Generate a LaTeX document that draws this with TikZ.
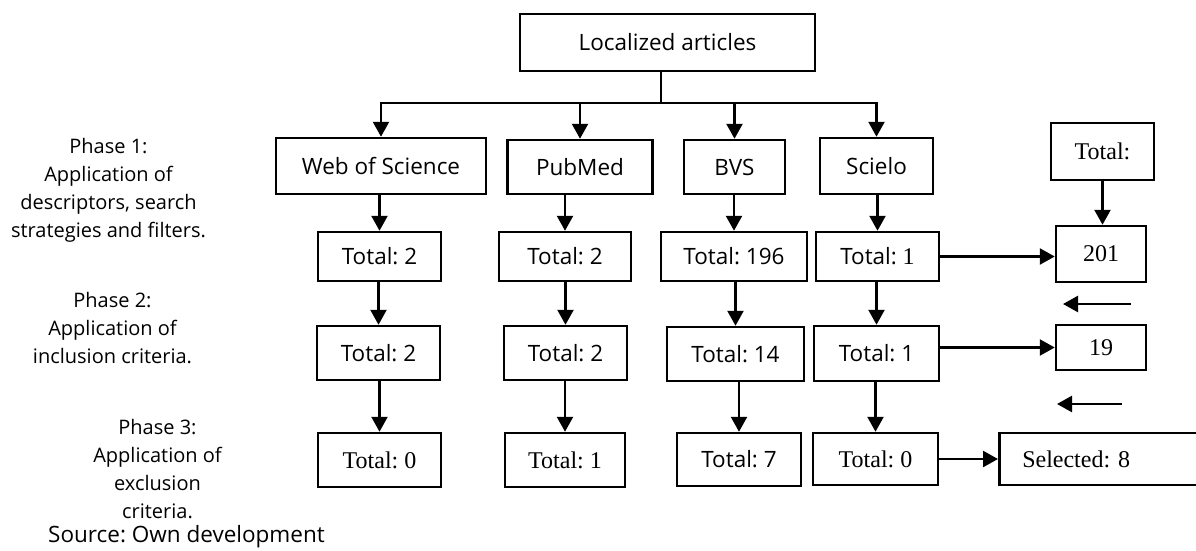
\documentclass[tikz,border=0pt]{standalone}
\usepackage{fontspec}
\setmainfont{Open Sans}
\newfontfamily\tnr{Liberation Serif}
\usetikzlibrary{arrows.meta}
\frenchspacing
\begin{document}
\begin{tikzpicture}[x=1pt,y=-1pt,
  box/.style={draw, line width=2.5pt, inner sep=0pt, font=\fontsize{22.5}{27}\selectfont},
  sbox/.style={box, font=\fontsize{24}{28}\selectfont\tnr},
  arr/.style={line width=2.4pt, -{Triangle[width=16pt,length=15pt]}},
  lnk/.style={line width=2.4pt},
  phase/.style={align=center, inner sep=0pt, font=\fontsize{20}{28}\selectfont}]
\fill[white] (0,0) rectangle (1196,551);
\useasboundingbox (0,0) rectangle (1196,551);

% top
\node[box, minimum width=295pt, minimum height=57pt] (loc) at (667.5,42.5) {Localized articles};

% databases
\node[box, minimum width=210pt, minimum height=56pt] (wos) at (381,166) {Web of Science};
\node[box, minimum width=145pt, minimum height=54pt] (pub) at (580,167) {PubMed};
\node[box, minimum width=101pt, minimum height=54pt] (bvs) at (734.5,167) {BVS};
\node[box, minimum width=113pt, minimum height=56pt] (sci) at (876.5,166) {Scielo};
\node[sbox, minimum width=103pt, minimum height=57pt] (tot) at (1102.5,151.5) {Total:};

% row 1
\node[box, minimum width=123pt, minimum height=49pt] (w1) at (379.5,256.5) {Total: 2};
\node[box, minimum width=132pt, minimum height=49pt] (p1) at (565,256.5) {Total: 2};
\node[box, minimum width=146pt, minimum height=49pt] (b1) at (734,256.5) {Total: 196};
\node[box, minimum width=123pt, minimum height=49pt] (s1) at (877.5,256.5) {Total: {\tnr\fontsize{24}{28}\selectfont 1}};
\node[sbox, minimum width=90pt, minimum height=56pt] (n201) at (1101,254) {201};

% row 2
\node[box, minimum width=123pt, minimum height=54pt] (w2) at (378.5,353) {Total: 2};
\node[box, minimum width=123pt, minimum height=54pt] (p2) at (565.5,353) {Total: 2};
\node[box, minimum width=137pt, minimum height=54pt] (b2) at (735.5,354) {Total: 14};
\node[box, minimum width=125pt, minimum height=55pt] (s2) at (876.5,353.5) {Total: 1};
\node[sbox, minimum width=90pt, minimum height=45pt] (n19) at (1101,347.5) {19};

% row 3
\node[sbox, minimum width=123pt, minimum height=54pt] (w3) at (379.5,460) {Total: 0};
\node[sbox, minimum width=120pt, minimum height=54pt] (p3) at (565,460) {Total: 1};
\node[box, minimum width=124pt, minimum height=53pt] (b3) at (739,459.5) {Total: 7};
\node[sbox, minimum width=125pt, minimum height=52pt] (s3) at (875.5,459) {Total: 0};
\node[sbox, anchor=west, minimum height=52pt, text width=190pt, inner xsep=23pt, align=left] (sel) at (998,459) {Selected: 8};

% phase labels
\node[phase] (ph1) at (108.5,190) {Phase 1:\\Application of\\descriptors, search\\strategies and filters.};
\node[phase] (ph2) at (112.5,328) {Phase 2:\\Application of\\inclusion criteria.};
\node[phase] (ph3) at (157.5,469.5) {Phase 3:\\Application of\\exclusion\\criteria.};
\node[anchor=west, inner sep=0pt, font=\fontsize{22.5}{27}\selectfont] (src) at (48,537) {Source: Own development};

% tree from top
\coordinate (j) at (661,103);
\coordinate (jl) at (381,103);
\coordinate (jr) at (876.5,103);
\draw[lnk] (loc.south -| j) -- (j);
\draw[lnk, line cap=rect] (jl) -- (jr);
\draw[arr] (jl) -- (wos.north);
\draw[arr] (pub.north |- j) -- (pub.north);
\draw[arr] (bvs.north |- j) -- (bvs.north);
\draw[arr] (jr) -- (sci.north);

% vertical chains
\draw[arr] (wos.south -| w1.north) -- (w1.north);
\draw[arr] (pub.south -| p1.north) -- (p1.north);
\draw[arr] (bvs.south -| b1.north) -- (b1.north);
\draw[arr] (sci.south -| s1.north) -- (s1.north);

\draw[arr] (w1.south -| w2.north) -- (w2.north);
\draw[arr] (p1.south -| p2.north) -- (p2.north);
\draw[arr] (b1.south -| b2.north) -- (b2.north);
\draw[arr] (s1.south -| s2.north) -- (s2.north);

\draw[arr] (w2.south -| w3.north) -- (w3.north);
\draw[arr] (p2.south -| p3.north) -- (p3.north);
\draw[arr] (b2.south -| b3.north) -- (b3.north);
\draw[arr] (s2.south -| s3.north) -- (s3.north);

% right side
\draw[arr] (tot.south) -- (tot.south |- n201.north);
\draw[arr] (s1.east) -- (s1.east -| n201.west);
\draw[arr] (s2.east |- n19.west) -- (n19.west);
\draw[arr] (s3.east) -- (s3.east -| sel.west);

\coordinate (a1s) at (1131,304);
\coordinate (a1e) at (1063,304);
\coordinate (a2s) at (1122,404);
\coordinate (a2e) at (1057,404);
\draw[arr] (a1s) -- (a1e);
\draw[arr] (a2s) -- (a2e);
\end{tikzpicture}
\end{document}
